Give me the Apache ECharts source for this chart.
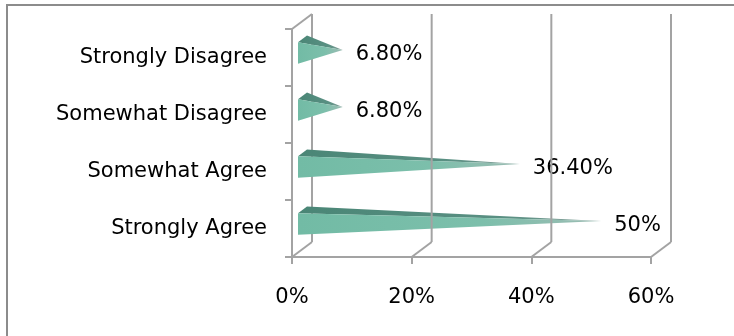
<!DOCTYPE html>
<html>
<head>
<meta charset="utf-8">
<script src="https://cdn.jsdelivr.net/npm/echarts@6/dist/echarts.min.js"></script>
<style>
  html, body { margin: 0; padding: 0; background: #ffffff; }
  #chart { width: 734px; height: 336px; }
</style>
</head>
<body>
<div id="chart"></div>
<script>
// Survey responses, listed bottom to top as they appear on the category axis
const categories = ['Strongly Agree', 'Somewhat Agree', 'Somewhat Disagree', 'Strongly Disagree'];
const shares = [50, 36.4, 6.8, 6.8];
const xTicks = [0, 20, 40, 60];

const FONT = 'DejaVu Sans';
const GRID_COLOR = '#a3a3a3';
// screen offset of the back wall relative to the front plane (pseudo 3D depth)
const DEPTH = [20, -15];

function pctLabel(v) {
  return Number.isInteger(v) ? v + '%' : v.toFixed(2) + '%';
}

const chart = echarts.init(document.getElementById('chart'), null, { renderer: 'canvas' });

// walls and floor of the 3D box: back-wall grid line, floor diagonal, wall top edge
function renderFrame(params, api) {
  const cs = params.coordSys;
  const v = api.value(0);
  const x = api.coord([v, 0])[0];
  const bottom = cs.y + cs.height;
  const top = cs.y;
  const lineStyle = { stroke: GRID_COLOR, lineWidth: 2 };
  const children = [
    { type: 'line', shape: { x1: x + DEPTH[0], y1: top + DEPTH[1], x2: x + DEPTH[0], y2: bottom + DEPTH[1] }, style: lineStyle },
    { type: 'line', shape: { x1: x, y1: bottom, x2: x + DEPTH[0], y2: bottom + DEPTH[1] }, style: lineStyle }
  ];
  if (v === 0) {
    children.push({ type: 'line', shape: { x1: x, y1: top, x2: x + DEPTH[0], y2: top + DEPTH[1] }, style: lineStyle });
  }
  return { type: 'group', children: children };
}

// pyramid-shaped bar: lit front face, darker top face, apex at the value
function renderPyramid(params, api) {
  const v = api.value(0);
  const c = api.value(1);
  const base = api.coord([0, c]);
  const tip = api.coord([v, c]);
  const band = api.size([0, 1])[1];
  const h = band * 0.19;
  const at = (p, f) => [p[0] + DEPTH[0] * f, p[1] + DEPTH[1] * f];
  const fc = at(base, 0.3);
  const bc = at(base, 0.75);
  const apex = at(tip, 0.5);
  return {
    type: 'group',
    children: [
      {
        type: 'polygon',
        shape: { points: [[bc[0], bc[1] - h], [fc[0], fc[1] - h], apex] },
        style: {
          fill: {
            type: 'linear', x: 0, y: 0, x2: 1, y2: 0,
            colorStops: [{ offset: 0, color: '#4a8676' }, { offset: 0.7, color: '#5a9083' }, { offset: 1, color: '#8aa39d' }]
          }
        }
      },
      {
        type: 'polygon',
        shape: { points: [[fc[0], fc[1] - h], [fc[0], fc[1] + h], apex] },
        style: {
          fill: {
            type: 'linear', x: 0, y: 0, x2: 1, y2: 0,
            colorStops: [{ offset: 0, color: '#72bba5' }, { offset: 0.6, color: '#7cbfab' }, { offset: 1, color: '#9cbcb3' }]
          }
        }
      },
      {
        type: 'text',
        style: {
          text: pctLabel(v),
          x: apex[0] + 13,
          y: fc[1] + 2,
          align: 'left',
          verticalAlign: 'middle',
          fontSize: 21,
          fontFamily: FONT,
          fill: '#000000'
        }
      }
    ]
  };
}

const option = {
  backgroundColor: '#ffffff',
  animation: false,
  graphic: [{
    type: 'rect',
    silent: true,
    shape: { x: 7, y: 5, width: 740, height: 340 },
    style: { fill: 'none', stroke: '#8c8c8c', lineWidth: 2 }
  }],
  grid: { left: 292, top: 29, width: 359, height: 228, containLabel: false },
  xAxis: {
    type: 'value',
    min: 0,
    max: 60,
    interval: 20,
    axisLine: { show: true, lineStyle: { color: GRID_COLOR, width: 2 } },
    axisTick: { show: true, length: 7, lineStyle: { color: GRID_COLOR, width: 2 } },
    splitLine: { show: false },
    axisLabel: {
      formatter: '{value}%',
      margin: 30,
      fontSize: 21,
      fontFamily: FONT,
      color: '#000000'
    }
  },
  yAxis: {
    type: 'category',
    data: categories,
    axisLine: { show: true, lineStyle: { color: GRID_COLOR, width: 2 } },
    axisTick: { show: true, length: 7, lineStyle: { color: GRID_COLOR, width: 2 } },
    splitLine: { show: false },
    axisLabel: {
      margin: 25,
      fontSize: 21,
      fontFamily: FONT,
      color: '#000000'
    }
  },
  series: [
    {
      // left wall edge, sits behind the bars
      type: 'custom',
      name: 'wall',
      silent: true,
      clip: false,
      z: 1,
      renderItem: renderFrame,
      encode: { x: 0, y: 1 },
      data: xTicks.slice(0, 1).map(v => [v, 0])
    },
    {
      type: 'custom',
      name: 'Responses',
      clip: false,
      z: 2,
      renderItem: renderPyramid,
      encode: { x: 0, y: 1 },
      data: shares.map((v, i) => [v, i])
    },
    {
      // back-wall grid lines, drawn across the bars
      type: 'custom',
      name: 'grid',
      silent: true,
      clip: false,
      z: 3,
      renderItem: renderFrame,
      encode: { x: 0, y: 1 },
      data: xTicks.slice(1).map(v => [v, 0])
    }
  ]
};

chart.setOption(option);
</script>
</body>
</html>
